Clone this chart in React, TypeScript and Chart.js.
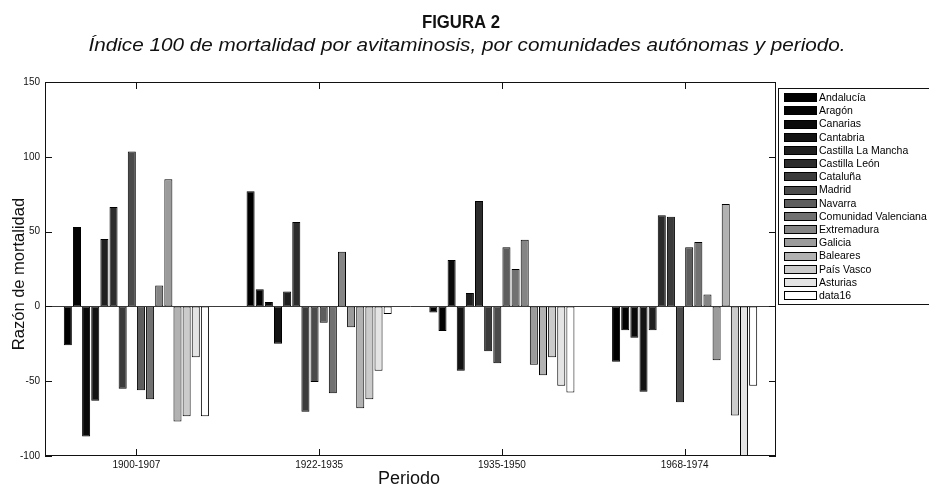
import { useEffect, useRef } from 'react';
import { Chart, registerables } from 'chart.js';

Chart.register(...registerables);

// ---------- data ----------
const categories = ['1900-1907', '1922-1935', '1935-1950', '1968-1974'];

const regionNames = [
  'Andalucía',
  'Aragón',
  'Canarias',
  'Cantabria',
  'Castilla La Mancha',
  'Castilla León',
  'Cataluña',
  'Madrid',
  'Navarra',
  'Comunidad Valenciana',
  'Extremadura',
  'Galicia',
  'Baleares',
  'País Vasco',
  'Asturias',
  'data16',
];

const andalucia = [-26, 77, -4, -37];
const aragon = [53, 11.5, -16.5, -16];
const canarias = [-87, 3, 31, -21];
const cantabria = [-63, -25, -43, -57];
const castillaLaMancha = [45, 10, 9, -16];
const castillaLeon = [66.5, 56.5, 70.5, 61];
const cataluna = [-55, -70.5, -30, 60];
const madrid = [103.5, -50.5, -38, -64];
const navarra = [-56, -11, 39.5, 39.5];
const comunidadValenciana = [-62, -58, 25, 43];
const extremadura = [14, 36.5, 44.5, 8];
const galicia = [85, -14, -39, -36];
const baleares = [-77, -68, -46, 68.5];
const paisVasco = [-73.5, -62, -34, -73];
const asturias = [-34, -43, -53, -120];
const data16 = [-73.5, -5, -57.5, -53];

const seriesValues = [
  andalucia, aragon, canarias, cantabria, castillaLaMancha, castillaLeon,
  cataluna, madrid, navarra, comunidadValenciana, extremadura, galicia,
  baleares, paisVasco, asturias, data16,
];

const yTickValues = [-100, -50, 0, 50, 100, 150];

const titleText = 'FIGURA 2';
const subtitleText = 'Índice 100 de mortalidad por avitaminosis, por comunidades autónomas y periodo.';
const yAxisTitle = 'Razón de mortalidad';
const xAxisTitle = 'Periodo';

// ---------- style ----------
const FONT = '"Liberation Sans", Arial, Helvetica, sans-serif';

function grayShade(i: number, n: number) {
  const t = i / (n - 1);
  const v = Math.round(255 * Math.pow(t, 1.6));
  return `rgb(${v},${v},${v})`;
}

function drawFittedText(
  ctx: CanvasRenderingContext2D,
  text: string,
  font: string,
  cx: number,
  baseline: number,
  targetWidth: number,
) {
  ctx.save();
  ctx.font = font;
  const w = ctx.measureText(text).width;
  const sx = Math.min(1.15, targetWidth / w);
  ctx.translate(cx, baseline);
  ctx.scale(sx, 1);
  ctx.textAlign = 'center';
  ctx.textBaseline = 'alphabetic';
  ctx.fillText(text, 0, 0);
  ctx.restore();
}

const decorPlugin = {
  id: 'decor',
  afterDatasetsDraw(chart: any) {
    const { ctx, chartArea: a, scales } = chart;
    const ys = scales.y;
    const xs = scales.x;
    ctx.save();
    ctx.lineWidth = 1;
    // zero baseline
    const y0 = Math.round(ys.getPixelForValue(0)) + 0.5;
    ctx.strokeStyle = '#3a3a3a';
    ctx.beginPath();
    ctx.moveTo(a.left, y0);
    ctx.lineTo(a.right, y0);
    ctx.stroke();
    // frame
    ctx.strokeStyle = '#111';
    ctx.strokeRect(a.left + 0.5, a.top + 0.5, a.right - a.left - 1, a.bottom - a.top - 1);
    // inward ticks
    const tl = 7;
    ctx.beginPath();
    yTickValues.forEach((v) => {
      const py = Math.round(ys.getPixelForValue(v)) + 0.5;
      ctx.moveTo(a.left, py);
      ctx.lineTo(a.left + tl, py);
      ctx.moveTo(a.right - tl, py);
      ctx.lineTo(a.right, py);
    });
    categories.forEach((_c, i) => {
      const px = Math.round(xs.getPixelForValue(i)) + 0.5;
      ctx.moveTo(px, a.bottom);
      ctx.lineTo(px, a.bottom - tl);
      ctx.moveTo(px, a.top);
      ctx.lineTo(px, a.top + tl);
    });
    ctx.stroke();
    ctx.restore();
  },
  afterDraw(chart: any) {
    const { ctx, chartArea: a } = chart;
    ctx.save();
    ctx.fillStyle = '#111';
    // title + subtitle
    drawFittedText(ctx, titleText, `bold 18px ${FONT}`, 461, 28, 78);
    drawFittedText(ctx, subtitleText, `italic 18px ${FONT}`, 467, 51, 788);

    // axis titles
    ctx.font = `16.5px ${FONT}`;
    ctx.textAlign = 'center';
    ctx.textBaseline = 'alphabetic';
    ctx.save();
    ctx.translate(24, (a.top + a.bottom) / 2 + 5);
    ctx.rotate(-Math.PI / 2);
    ctx.fillText(yAxisTitle, 0, 0);
    ctx.restore();
    ctx.font = `18px ${FONT}`;
    ctx.fillText(xAxisTitle, 409, 484);

    // legend
    const datasets = chart.data.datasets;
    const lx = a.right + 2;
    const ly = 88;
    const rowH = 13.2;
    const lh = 216;
    ctx.fillStyle = '#fff';
    ctx.fillRect(lx, ly, 200, lh);
    ctx.strokeStyle = '#111';
    ctx.lineWidth = 1;
    ctx.strokeRect(lx + 0.5, ly + 0.5, 200, lh);
    ctx.font = `10.5px ${FONT}`;
    ctx.textAlign = 'left';
    ctx.textBaseline = 'middle';
    datasets.forEach((ds: any, i: number) => {
      const cy = ly + 9.7 + i * rowH;
      const sx = lx + 6;
      const sy = Math.round(cy - 4.5);
      ctx.fillStyle = ds.backgroundColor;
      ctx.fillRect(sx, sy, 33, 9);
      ctx.strokeStyle = '#000';
      ctx.strokeRect(sx + 0.5, sy + 0.5, 32, 8);
      ctx.fillStyle = '#000';
      ctx.fillText(ds.label, sx + 35, cy + 0.5);
    });
    ctx.restore();
  },
};

export default function App() {
  const canvasRef = useRef<HTMLCanvasElement | null>(null);

  useEffect(() => {
    const canvas = canvasRef.current;
    if (!canvas) return;
    const datasets = seriesValues.map((vals, i) => ({
      label: regionNames[i],
      data: vals,
      backgroundColor: grayShade(i, seriesValues.length),
      borderColor: '#000',
      borderWidth: 1,
      borderSkipped: false as const,
      categoryPercentage: 0.8,
      barPercentage: 0.88,
      clip: 0,
    }));
    const chart = new Chart(canvas, {
      type: 'bar',
      data: { labels: categories, datasets },
      options: {
        animation: false,
        responsive: false,
        devicePixelRatio: 1,
        events: [],
        layout: { padding: { top: 82, right: 153, bottom: 0, left: 0 } },
        plugins: {
          legend: { display: false },
          tooltip: { enabled: false },
          title: { display: false },
        },
        scales: {
          x: {
            type: 'category',
            offset: true,
            grid: { display: false, drawTicks: false },
            border: { display: false },
            ticks: {
              font: { family: FONT, size: 10 },
              color: '#111',
              padding: 3,
              maxRotation: 0,
              autoSkip: false,
            },
            afterFit: (scale: any) => {
              scale.height = 30;
            },
          },
          y: {
            min: -100,
            max: 150,
            grid: { display: false, drawTicks: false },
            border: { display: false },
            ticks: {
              stepSize: 50,
              font: { family: FONT, size: 10 },
              color: '#111',
              padding: 5,
            },
            afterFit: (scale: any) => {
              scale.width = 45;
            },
          },
        },
      },
      plugins: [decorPlugin],
    });
    return () => chart.destroy();
  }, []);

  return (
    <div
      style={{
        position: 'fixed',
        left: 0,
        top: 0,
        width: 929,
        height: 486,
        background: '#fff',
      }}
    >
      <canvas ref={canvasRef} width={929} height={486} style={{ width: 929, height: 486, display: 'block' }} />
    </div>
  );
}
